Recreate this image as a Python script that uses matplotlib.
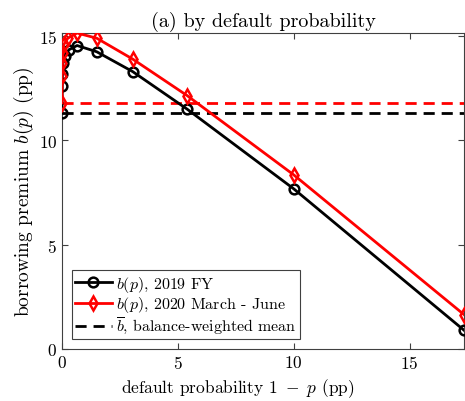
import matplotlib
matplotlib.use("Agg")
import matplotlib.pyplot as plt

plt.rcParams['font.family'] = 'serif'
plt.rcParams['font.serif'] = ['cmr10']
plt.rcParams['mathtext.fontset'] = 'cm'
plt.rcParams['axes.formatter.use_mathtext'] = True

# --- data (pp) ---
x_2019 = [0.0, 0.01, 0.02, 0.04, 0.12, 0.30, 0.65, 1.5, 3.05, 5.4, 10.0, 17.35]
b_2019 = [11.3, 12.6, 13.2, 13.7, 14.05, 14.35, 14.55, 14.25, 13.3, 11.5, 7.68, 0.9]
x_2020 = [0.0, 0.0, 0.02, 0.04, 0.08, 0.25, 0.65, 1.5, 3.05, 5.4, 10.0, 17.35]
b_2020 = [11.8, 13.1, 13.7, 14.2, 14.6, 14.9, 15.15, 14.9, 13.9, 12.15, 8.35, 1.65]
mean_2019 = 11.3
mean_2020 = 11.78

fig = plt.figure(figsize=(4.65, 4.02), dpi=100)
ax = fig.add_axes([62 / 465, 1 - 350 / 402, 402 / 465, 316 / 402])

ax.plot(x_2019, b_2019, color='black', lw=2, marker='o', ms=7,
        mfc='none', mew=1.8, label=r'$b(p)$, 2019 FY', zorder=3)
ax.plot(x_2020, b_2020, color='red', lw=2, marker='d', ms=7,
        mfc='none', mew=1.8, label=r'$b(p)$, 2020 March - June', zorder=4)
ax.axhline(mean_2020, color='red', lw=2, ls='--', dashes=(4, 2.5))
ax.axhline(mean_2019, color='black', lw=2, ls='--', dashes=(4, 2.5),
           label=r'$\overline{b}$, balance-weighted mean')

ax.set_xlim(0, 17.35)
ax.set_ylim(0, 15.15)
ax.set_xticks([0, 5, 10, 15])
ax.set_yticks([0, 5, 10, 15])

for s in ax.spines.values():
    s.set_color('0.25')
    s.set_linewidth(0.8)
ax.tick_params(direction='in', top=True, right=True, length=4,
               color='0.25', labelsize=12.5)

ax.set_title('(a) by default probability', fontsize=14.5, pad=5)
ax.set_xlabel(r'default probability $1\ -\ p$ (pp)', fontsize=12.5, labelpad=4)
ax.xaxis.set_label_coords(0.437, -0.085)
ax.set_ylabel(r'borrowing premium $b(p)$ (pp)', fontsize=14, labelpad=2)

leg = ax.legend(loc='lower left', fontsize=11.5, fancybox=False,
                edgecolor='0.25', framealpha=1, handlelength=2.3,
                borderaxespad=0.6, borderpad=0.2, labelspacing=0.05,
                handletextpad=0.3)
leg.get_frame().set_linewidth(0.8)

fig.savefig('out.png', dpi=100)
